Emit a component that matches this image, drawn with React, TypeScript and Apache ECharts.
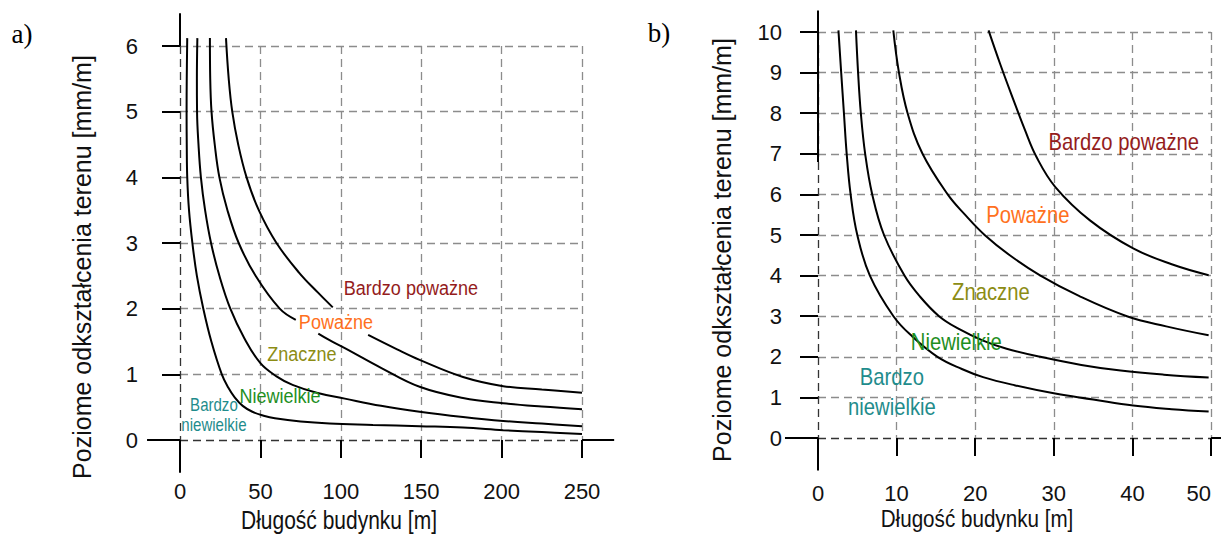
import React, { useEffect, useRef } from "react";
import * as echarts from "echarts";

const FONT = "'Liberation Sans', Arial, sans-serif";
const SERIF = "'Liberation Serif', 'Times New Roman', serif";

// ---- Chart a) : length 0..250 m, strain 0..6 mm/m ----
const leftXTicks = [0, 50, 100, 150, 200, 250];
const leftYTicks = [0, 1, 2, 3, 4, 5, 6];
const leftCurveA: any[] = [[4.5, 6.12], [4.2, 5.5], [4.1, 5.0], [4.2, 4.5], [4.5, 4.0], [5.6, 3.5], [7.7, 3.0], [10.5, 2.5], [14.5, 2.0], [19.5, 1.5], [26, 1.0], [30, 0.8], [34, 0.65], [39, 0.52], [45, 0.43], [52, 0.37], [59, 0.33], [75, 0.28], [93, 0.25], [120, 0.23], [149, 0.21], [176, 0.19], [201, 0.15], [225, 0.12], [250, 0.09]];
const leftCurveB: any[] = [[10.8, 6.12], [10.5, 5.5], [10.6, 5.0], [11.5, 4.5], [13.0, 4.0], [15.6, 3.5], [19.3, 3.0], [24.5, 2.5], [31.3, 2.0], [40, 1.55], [50, 1.17], [60, 0.97], [70, 0.84], [85, 0.72], [102.5, 0.63], [125, 0.52], [149, 0.43], [176, 0.35], [201, 0.29], [225, 0.25], [250, 0.21]];
const leftCurveC: any[] = [[18.6, 6.12], [18.8, 5.5], [19.6, 5.0], [21.6, 4.5], [24.5, 4.0], [29.5, 3.5], [36.5, 3.0], [47, 2.5], [62, 2.0], [72, 1.83], [80, "-"], [86, 1.62], [93, 1.52], [102.5, 1.4], [125, 1.1], [149, 0.81], [176, 0.64], [201, 0.56], [225, 0.51], [250, 0.47]];
const leftCurveD: any[] = [[28.6, 6.12], [30.3, 5.5], [32.5, 5.0], [36.2, 4.5], [41.4, 4.0], [49, 3.5], [60, 3.0], [74, 2.55], [86, 2.24], [95, 2.02], [105, "-"], [117, 1.6], [135, 1.38], [149, 1.22], [176, 0.96], [201, 0.82], [225, 0.77], [250, 0.72]];

// ---- Chart b) : length 0..50 m, strain 0..10 mm/m ----
const rightXTicks = [0, 10, 20, 30, 40, 50];
const rightYTicks = [0, 1, 2, 3, 4, 5, 6, 7, 8, 9, 10];
const rightCurveA: any[] = [[2.6, 10.04], [2.95, 9], [3.3, 8], [3.65, 7], [4.15, 6], [5.0, 5], [6.6, 4], [9.6, 3], [12, 2.5], [15.2, 2.0], [18.3, 1.7], [21, 1.5], [25, 1.3], [30, 1.1], [35, 0.95], [40.1, 0.8], [45, 0.71], [49.7, 0.65]];
const rightCurveB: any[] = [[4.83, 10.04], [5.1, 9], [5.45, 8], [6.0, 7], [6.9, 6], [8.4, 5], [11, 4], [12.9, 3.5], [15.4, 3.0], [17.8, 2.7], [21, 2.4], [24, 2.2], [28.3, 2.0], [33.5, 1.8], [38.5, 1.66], [44, 1.56], [49.7, 1.49]];
const rightCurveC: any[] = [[9.58, 10.04], [10.3, 9], [11.4, 8], [13.3, 7], [16.5, 6], [18.7, 5.5], [21.2, 5], [24.4, 4.5], [28.3, 4], [33.2, 3.5], [39.3, 3], [44.3, 2.75], [49.7, 2.53]];
const rightCurveD: any[] = [[21.7, 10.04], [23.2, 9.2], [24.9, 8.31], [26.3, 7.6], [27.8, 6.92], [30.2, 6.18], [34.6, 5.36], [40.1, 4.67], [45, 4.28], [49.7, 4.01]];

// zone labels
const zoneNames = ["Bardzo poważne", "Poważne", "Znaczne", "Niewielkie", "Bardzo\nniewielkie"];
const zoneColors = ["#941c1c", "#ff7020", "#8c8c14", "#1f8f1f", "#1f8c8c"];
const leftLabelX = [143.6, 97, 75.8, 62.2, 21.1];
const leftLabelY = [2.33, 1.81, 1.32, 0.68, 0.38];
const rightLabelX = [38.9, 26.7, 22.0, 17.6, 9.4];
const rightLabelY = [7.28, 5.49, 3.59, 2.36, 1.13];

const AXIS_NAME_Y = "Poziome odkształcenia terenu [mm/m]";
const AXIS_NAME_X = "Długość budynku [m]";

const GRID_COLOR = "#8c8c8c";

function splitColors(n: number) {
  const arr = ["#333333"];
  for (let i = 1; i < n; i++) arr.push(GRID_COLOR);
  return arr;
}

function axisCfg(gridIndex: number, ticks: number[], margin: number, alignMax?: string) {
  return {
    type: "value",
    gridIndex,
    min: ticks[0],
    max: ticks[ticks.length - 1],
    interval: ticks[1] - ticks[0],
    axisLine: { show: false, onZero: false },
    axisTick: { show: true, inside: false, length: 18, lineStyle: { color: "#000", width: 2 } },
    axisLabel: { margin, fontSize: 22, fontFamily: FONT, color: "#111", ...(alignMax ? { alignMaxLabel: alignMax } : {}) },
    splitLine: { show: true, lineStyle: { color: splitColors(ticks.length), type: [8, 5], width: 1.3 } },
  };
}

function curve(data: any[], idx: number) {
  return {
    type: "line",
    xAxisIndex: idx,
    yAxisIndex: idx,
    data,
    showSymbol: false,
    symbol: "none",
    smooth: 0.4,
    clip: false,
    silent: true,
    connectNulls: false,
    lineStyle: { color: "#000", width: 2 },
    z: 3,
  };
}

export default function App() {
  const ref = useRef<HTMLDivElement>(null);
  useEffect(() => {
    if (!ref.current) return;
    const chart = echarts.init(ref.current, undefined, { renderer: "svg" });
    chart.setOption({
      animation: false,
      backgroundColor: "#fff",
      grid: [
        { left: 180, top: 46, width: 402, height: 394, outerBoundsMode: "none", containLabel: false },
        { left: 818, top: 32, width: 393, height: 406, outerBoundsMode: "none", containLabel: false },
      ],
      xAxis: [axisCfg(0, leftXTicks, 40), axisCfg(1, rightXTicks, 44, "right")],
      yAxis: [axisCfg(0, leftYTicks, 42), axisCfg(1, rightYTicks, 36)],
      series: [
        curve(leftCurveA, 0),
        curve(leftCurveB, 0),
        curve(leftCurveC, 0),
        curve(leftCurveD, 0),
        curve(rightCurveA, 1),
        curve(rightCurveB, 1),
        curve(rightCurveC, 1),
        curve(rightCurveD, 1),
      ],
    });

    const px = (g: number, x: number, y: number) => chart.convertToPixel({ gridIndex: g }, [x, y]) as number[];
    const seg = (g: number, a: number[], b: number[]) => {
      const p1 = px(g, a[0], a[1]);
      const p2 = px(g, b[0], b[1]);
      return {
        type: "line",
        shape: { x1: p1[0], y1: p1[1], x2: p2[0], y2: p2[1] },
        style: { stroke: "#000", lineWidth: 2 },
        z: 10,
        silent: true,
      };
    };
    const text = (x: number, y: number, str: string, size: number, color: string, extra: any = {}) => {
      const { style, ...rest } = extra;
      return {
        type: "text",
        x,
        y,
        z: 12,
        silent: true,
        ...rest,
        style: {
          text: str,
          fill: color,
          fontSize: size,
          fontFamily: FONT,
          align: "center",
          verticalAlign: "middle",
          ...(style || {}),
        },
      };
    };
    const graphics: any[] = [
      seg(0, [0, 6], [0, 6.5]),
      seg(0, [0, 0], [0, -0.5]),
      seg(0, [-20.5, 0], [0, 0]),
      seg(0, [250, 0], [270, 0]),
      seg(1, [0, 6.8], [0, 10.53]),
      seg(1, [0, 0], [0, -0.8]),
      seg(1, [-4.2, 0], [0, 0]),
      seg(1, [50, 0], [52, 0]),
    ];
    zoneNames.forEach((name, i) => {
      const pl = px(0, leftLabelX[i], leftLabelY[i]);
      const small = i === 4;
      graphics.push(
        text(pl[0], pl[1], name, small ? 17.5 : 21, zoneColors[i], {
          scaleX: 0.86,
          style: { lineHeight: small ? 20 : 24 },
        })
      );
      const pr = px(1, rightLabelX[i], rightLabelY[i]);
      graphics.push(text(pr[0], pr[1], name, 23, zoneColors[i], { scaleX: 0.88, style: { lineHeight: 30 } }));
    });
    // axis titles
    graphics.push(text(339, 520, AXIS_NAME_X, 25, "#111", { scaleX: 0.84 }));
    graphics.push(text(977, 519, AXIS_NAME_X, 24, "#111", { scaleX: 0.86 }));
    graphics.push(text(82, 267, AXIS_NAME_Y, 25, "#111", { rotation: Math.PI / 2 }));
    graphics.push(text(722, 250, AXIS_NAME_Y, 25, "#111", { rotation: Math.PI / 2 }));
    // panel letters
    graphics.push(text(22, 34, "a)", 27, "#000", { style: { fontFamily: SERIF } }));
    graphics.push(text(659, 33, "b)", 27, "#000", { style: { fontFamily: SERIF } }));
    chart.setOption({ graphic: graphics });

    return () => chart.dispose();
  }, []);
  return <div ref={ref} style={{ position: "fixed", left: 0, top: 0, width: 1221, height: 535 }} />;
}
